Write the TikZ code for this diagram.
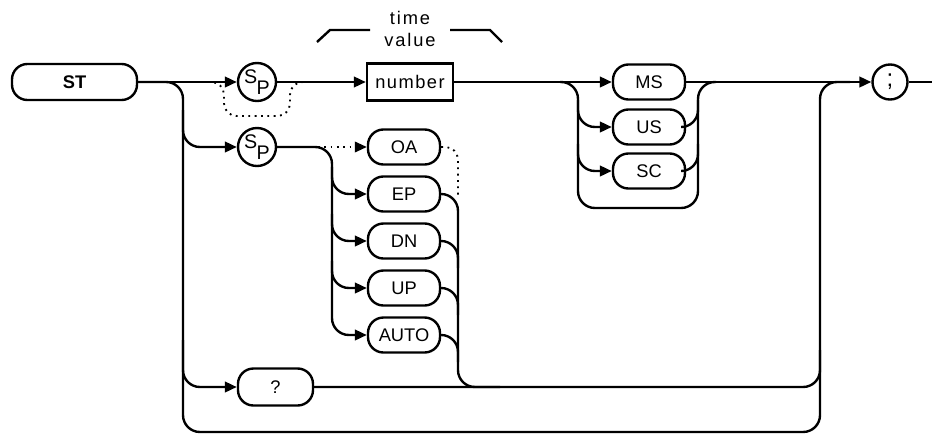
\documentclass[tikz,border=0pt]{standalone}
\usepackage{fontspec}
\setmainfont{Liberation Sans}
\usetikzlibrary{arrows.meta,positioning}
\newcommand\lblfont{\fontsize{13}{15}\selectfont}
\newcommand\spglyph{\raisebox{0.5ex}{S}\kern-0.5pt\raisebox{-0.55ex}{P}}

\begin{document}
\begin{tikzpicture}[x=0.025cm,y=-0.025cm,
    term/.style={draw,line width=1.7pt,rounded corners=11pt,minimum width=1.8cm,
      minimum height=0.875cm,inner sep=0pt,font=\lblfont},
    param/.style={draw,line width=1.7pt,minimum width=2.15cm,minimum height=0.925cm,
      inner sep=0pt,font=\lblfont\addfontfeatures{LetterSpace=8}},
    spc/.style={draw,circle,line width=1.7pt,minimum size=0.95cm,inner sep=0pt,
      font=\fontsize{14}{14}\selectfont},
    flow/.style={line width=1.7pt,rounded corners=12pt},
    arr/.style={flow,-{Triangle[length=8.5pt,width=7.5pt]}},
    opt/.style={line width=1.3pt,rounded corners=9pt,dash pattern=on 1.3pt off 3.2pt}]
  \useasboundingbox (0,0) rectangle (932,435);
  % keywords and parameters
  \node[term,font=\lblfont\bfseries,minimum width=3.125cm,minimum height=0.9cm] (st) at (74.5,82) {ST};
  \node[spc] (sp1) at (257,82) {\spglyph};
  \node[param] (num) at (410,82) {number};
  \node[spc] (sp2) at (257,147) {\spglyph};
  \foreach \nm/\yy/\lab in {oa/147/OA,ep/194/EP,dn/241/DN,up/288/UP,auto/335/AUTO}
    \node[term] (\nm) at (404,\yy) {\lab};
  \foreach \nm/\yy/\lab in {ms/82/MS,us/127/US,sc/171/SC}
    \node[term] (\nm) at (649,\yy) {\lab};
  \node[term,minimum width=1.875cm,minimum height=0.925cm] (q) at (275.5,387) {?};
  \node[spc,minimum size=0.875cm,font=\fontsize{17}{17}\selectfont] (semi) at (890,82) {;};
  \node[font=\lblfont\addfontfeatures{LetterSpace=10},align=center,inner sep=0pt] (tv) at (410,29)
    {time\\[1pt]value};
  \draw[line width=1.7pt] (317,42) -- (330,30) -- (370,30);
  \draw[line width=1.7pt] (450,30) -- (490,30) -- (502,42);
  % junctions
  \coordinate (lv) at (183,432);
  \coordinate (rv) at (820,82);
  \coordinate (rj) at (850,82);
  \coordinate (out) at (932,82);
  \coordinate (lb1) at (183,110);
  \coordinate (lb2) at (183,340);
  \coordinate (rb2) at (820,350);
  \coordinate (d1) at (208,82);
  \coordinate (d2) at (306,82);
  \coordinate (lv2) at (332,250);
  \coordinate (dj) at (318,147);
  \coordinate (rv2) at (458,198);
  \coordinate (rv3) at (458,300);
  \coordinate (qm) at (500,387);
  \coordinate (mj) at (560,82);
  \coordinate (mv) at (578,208);
  \coordinate (mr) at (698,82);
  \coordinate (mo) at (716,82);
  % main line
  \draw[arr] (st) -- (sp1);
  \draw[arr] (sp1) -- (num);
  \draw[arr] (num) -- (ms);
  \draw[arr] (ms) -- (semi);
  \draw[flow] (semi) -- (out);
  \draw[opt] (d1) -- (224,82) -- (224,116) -- (290,116) -- (290,82) -- (d2);
  % outer loop
  \draw[flow] (st.east) -| (lv) -| (rv) -- (rj);
  \draw[arr] (lb1) |- (sp2.west);
  \draw[arr] (lb2) |- (q.west);
  \draw[flow] (q.east) -| (rb2);
  % time units
  \draw[flow] (mj) -| (mv) -| (mr) -- (mo);
  \foreach \nm in {us,sc}{
    \draw[arr] ([yshift=6pt]mv |- \nm.north) |- (\nm.west);
    \draw[flow] (\nm.east) -| ([yshift=6pt]mr |- \nm.north);
  }
  % sweep modes
  \draw[arr] (sp2.east) -| (lv2) |- (auto.west);
  \foreach \nm in {ep,dn,up}
    \draw[arr] ([yshift=6pt]lv2 |- \nm.north) |- (\nm.west);
  \draw[opt,-{Triangle[length=8.5pt,width=7.5pt]}] (dj) -- (oa.west);
  \draw[opt] (oa.east) -| (rv2);
  \draw[flow] (ep.east) -| (rv3) |- (qm);
  \foreach \nm in {dn,up,auto}
    \draw[flow] (\nm.east) -| ([yshift=-6pt]rv3 |- \nm.south);
\end{tikzpicture}
\end{document}
